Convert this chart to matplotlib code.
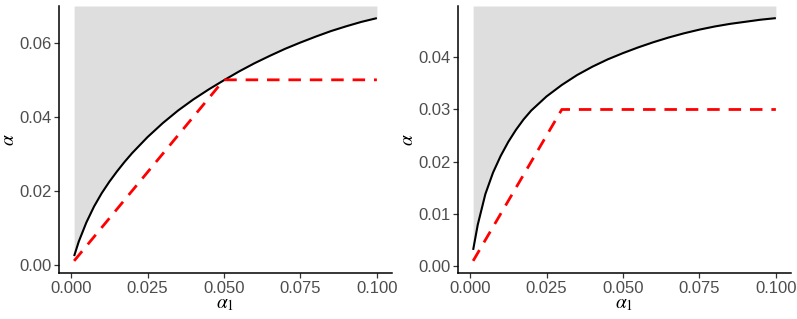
import matplotlib
matplotlib.use("Agg")
import matplotlib.pyplot as plt
from matplotlib.ticker import FormatStrFormatter

plt.rcParams['font.family'] = ['Liberation Sans', 'DejaVu Sans']
plt.rcParams['mathtext.fontset'] = 'stix'

# boundary curve
alpha1 = [0.001, 0.0025, 0.005, 0.0075, 0.01, 0.0125, 0.015, 0.0175, 0.02, 0.025,
          0.03, 0.035, 0.04, 0.045, 0.05, 0.055, 0.06, 0.065, 0.07, 0.075,
          0.08, 0.085, 0.09, 0.095, 0.1]
left_curve = [0.0023, 0.0062, 0.0114, 0.0157, 0.0193, 0.0224, 0.0252, 0.0278, 0.0302, 0.0345,
              0.0383, 0.0417, 0.0447, 0.0474, 0.0499, 0.0523, 0.0545, 0.0565, 0.0584, 0.0601,
              0.0617, 0.0632, 0.0645, 0.0657, 0.0667]
right_curve = [0.0031, 0.0079, 0.0138, 0.0179, 0.0211, 0.0238, 0.0261, 0.0281, 0.0298, 0.0325,
               0.0347, 0.0366, 0.0382, 0.0396, 0.0408, 0.0419, 0.0429, 0.0438, 0.0446, 0.0453,
               0.0459, 0.0464, 0.0468, 0.0472, 0.0475]

# red dashed reference lines
left_red_x = [0.001, 0.05, 0.1]
left_red_y = [0.001, 0.05, 0.05]
right_red_x = [0.001, 0.03, 0.1]
right_red_y = [0.001, 0.03, 0.03]

x_ticks = [0.0, 0.025, 0.05, 0.075, 0.1]
left_y_ticks = [0.0, 0.02, 0.04, 0.06]
right_y_ticks = [0.0, 0.01, 0.02, 0.03, 0.04]


def expand(lo, hi, f=0.05):
    d = (hi - lo) * f
    return lo - d, hi + d


def panel(ax, curve, rx, ry, yticks):
    xlo, xhi = expand(min(alpha1), max(alpha1))
    ylo, yhi = expand(min(min(curve), min(ry)), max(max(curve), max(ry)))
    ax.set_xlim(xlo, xhi)
    ax.set_ylim(ylo, yhi)
    ax.fill_between(alpha1, curve, [yhi] * len(alpha1), color='#dedede', lw=0, zorder=1)
    ax.plot(alpha1, curve, color='black', lw=1.5, zorder=3, solid_capstyle='butt')
    ax.plot(rx, ry, color='red', lw=2.0, ls=(0, (4.5, 3.2)), zorder=4,
            dash_joinstyle='round')
    ax.set_xticks(x_ticks)
    ax.set_yticks(yticks)
    ax.xaxis.set_major_formatter(FormatStrFormatter('%.3f'))
    ax.yaxis.set_major_formatter(FormatStrFormatter('%.2f'))
    for s in ['top', 'right']:
        ax.spines[s].set_visible(False)
    for s in ['left', 'bottom']:
        ax.spines[s].set_linewidth(1.1)
        ax.spines[s].set_color('black')
    ax.tick_params(direction='out', length=3.5, width=0.9, color='#333333',
                   labelcolor='#4d4d4d', labelsize=12, pad=2)
    ax.set_xlabel(r'$\alpha_1$', fontsize=14, labelpad=0.5)
    ax.set_ylabel(r'$\alpha$', fontsize=14, labelpad=1)


fig = plt.figure(figsize=(7.97, 3.19), dpi=100)
ax1 = fig.add_axes([59 / 797, 46 / 319, 333 / 797, 267 / 319])
ax2 = fig.add_axes([458 / 797, 46 / 319, 333 / 797, 267 / 319])

panel(ax1, left_curve, left_red_x, left_red_y, left_y_ticks)
panel(ax2, right_curve, right_red_x, right_red_y, right_y_ticks)

fig.savefig('out.png', dpi=100)
